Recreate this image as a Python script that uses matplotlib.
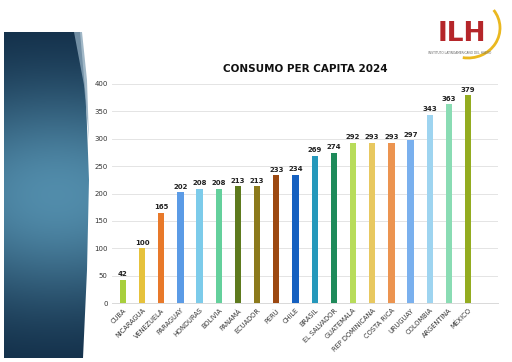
import numpy as np
import matplotlib
matplotlib.use("Agg")
import matplotlib.pyplot as plt
from matplotlib.patches import Polygon, Arc

countries = ["CUBA", "NICARAGUA", "VENEZUELA", "PARAGUAY", "HONDURAS", "BOLIVIA",
             "PANAMÁ", "ECUADOR", "PERÚ", "CHILE", "BRASIL", "EL SALVADOR",
             "GUATEMALA", "REP DOMINICANA", "COSTA RICA", "URUGUAY", "COLOMBIA",
             "ARGENTINA", "MÉXICO"]
values = [42, 100, 165, 202, 208, 208, 213, 213, 233, 234, 269, 274,
          292, 293, 293, 297, 343, 363, 379]
colors = ["#a8cf3c", "#e6c23c", "#e8792a", "#5b9be6", "#7ccbea", "#64d09c",
          "#5e7a1e", "#8c7a1c", "#9c4810", "#1560c0", "#2598bb", "#1e8a5a",
          "#b8dc5a", "#e8c860", "#ec9450", "#7ab0ee", "#9ed4f0", "#8adcb4",
          "#94ac20"]
yticks = [0, 50, 100, 150, 200, 250, 300, 350, 400]
title = "CONSUMO PER CAPITA 2024"

W, H = 512, 362
fig = plt.figure(figsize=(W / 100, H / 100), dpi=100)
fig.patch.set_facecolor("white")

# left decorative panel with gradient
deco = fig.add_axes([0, 0, 1, 1], zorder=0)
deco.set_xlim(0, W)
deco.set_ylim(H, 0)
deco.axis("off")
yy = np.linspace(0, 1, 200)[:, None]
xx = np.linspace(0, 1, 60)[None, :]
light = np.exp(-((yy - 0.5) ** 2) / 0.12) * (1 - 0.25 * (xx - 0.6) ** 2)
c_dark = np.array([0.05, 0.15, 0.25])
c_light = np.array([0.32, 0.55, 0.67])
img = c_dark[None, None, :] + (c_light - c_dark)[None, None, :] * light[..., None]
im = deco.imshow(img, extent=[4, 92, 358, 32], aspect="auto", zorder=1)
panel = Polygon([[4, 32], [80, 32], [86, 100], [89, 180], [87, 270], [83, 358], [4, 358]],
                closed=True, transform=deco.transData, facecolor="none", edgecolor="none")
deco.add_patch(panel)
im.set_clip_path(panel)
sliver = Polygon([[74, 32], [82, 32], [87, 80], [89, 140], [84, 85]], closed=True,
                 facecolor="#8aa6ba", edgecolor="none", alpha=0.8, zorder=2)
deco.add_patch(sliver)

# logo
deco.text(462, 34, "ILH", color="#b5262a", fontsize=19, fontweight="bold",
          ha="center", va="center", family="DejaVu Sans", zorder=3,
          transform=deco.transData)
deco.add_patch(Arc((468, 28), 64, 60, theta1=-35, theta2=100, color="#eab820",
                   lw=2.0, zorder=2))
deco.text(460, 53, "INSTITUTO LATINOAMERICANO DEL HUEVO", color="#666666",
          fontsize=2.2, ha="center", va="center", zorder=3)

# main chart
ax = fig.add_axes([112 / W, (H - 303) / H, (498 - 112) / W, (303 - 84) / H], zorder=1)
ax.patch.set_alpha(0)
x = np.arange(len(countries))
ax.bar(x, values, width=0.33, color=colors, zorder=3)
for xi, v in zip(x, values):
    ax.text(xi, v + 5, str(v), ha="center", va="bottom", fontsize=5,
            fontweight="semibold", color="#222222")
ax.set_ylim(0, 400)
ax.set_xlim(-0.57, len(countries) - 1 + 1.56)
ax.set_yticks(yticks)
ax.set_yticklabels([str(t) for t in yticks], fontsize=5, color="#333333")
ax.set_xticks(x)
ax.set_xticklabels(countries, rotation=45, ha="right", rotation_mode="anchor",
                   fontsize=4.8, color="#333333")
ax.tick_params(axis="both", length=0, pad=3)
ax.grid(axis="y", color="#e4e4e4", lw=0.7, zorder=0)
for s in ["top", "right", "left"]:
    ax.spines[s].set_visible(False)
ax.spines["bottom"].set_color("#d9d9d9")
ax.spines["bottom"].set_linewidth(0.7)

fig.text(305 / W, 1 - 69 / H, title, ha="center", va="center", fontsize=7.5,
         fontweight="bold", color="#111111")

fig.savefig("out.png", dpi=100)
